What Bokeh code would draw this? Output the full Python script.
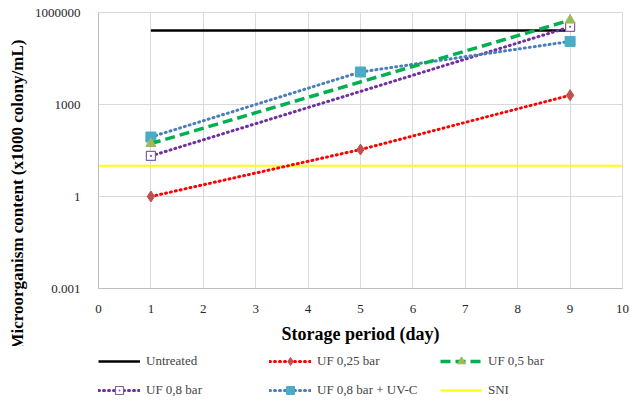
from bokeh.plotting import figure
from bokeh.models import Legend, LegendItem, FixedTicker, Range1d, Title
from bokeh.layouts import column
from bokeh.embed import file_html
from bokeh.resources import INLINE

# ---- data ----
days_untreated = [1, 5, 9]
untreated = [260000, 260000, 260000]
days_uf025 = [1, 5, 9]
uf025 = [1, 34, 2000]
days_uf05 = [1, 9]
uf05 = [53, 560000]
days_uf08 = [1, 9]
uf08 = [21, 340000]
days_uvc = [1, 5, 9]
uvc = [87, 11500, 114000]
days_sni = [0, 10]
sni = [10, 10]
x_ticks = [0, 1, 2, 3, 4, 5, 6, 7, 8, 9, 10]
y_ticks = [0.001, 1, 1000, 1000000]
y_tick_labels = ["0.001", "1", "1000", "1000000"]
labels = ["Untreated", "UF 0,25 bar", "UF 0,5 bar", "UF 0,8 bar", "UF 0,8 bar + UV-C", "SNI"]

FONT = "Liberation Serif"

# ---- styles ----
S_SNI = dict(line_color="#FFFF00", line_width=2)
S_UNT = dict(line_color="black", line_width=2.5)
S_025 = dict(line_color="#FF0000", line_width=3, line_dash="1 4", line_cap="round")
M_025 = dict(marker="diamond", size=11, fill_color="#C0504D", line_color="#C0504D")
S_08 = dict(line_color="#7030A0", line_width=3, line_dash="1 4", line_cap="round")
M_08 = dict(marker="square_dot", size=9, fill_color="white", line_color="#8064A2", line_width=1.2)
S_UVC = dict(line_color="#4A7EBB", line_width=3, line_dash="1 4", line_cap="round")
M_UVC = dict(marker="square", size=10, fill_color="#4BACC6", line_color="#4BACC6")
S_05 = dict(line_color="#00B050", line_width=3.5, line_dash="10 5")
M_05 = dict(marker="triangle", size=10, fill_color="#9BBB59", line_color="#9BBB59")

p = figure(width=630, height=346, output_backend="svg", toolbar_location=None,
           y_axis_type="log", x_range=Range1d(0, 10), y_range=Range1d(0.001, 1000000),
           min_border_left=97, min_border_right=8, min_border_top=12, min_border_bottom=57)

p.outline_line_color = "#D9D9D9"
p.xgrid.grid_line_color = "#D9D9D9"
p.ygrid.grid_line_color = "#D9D9D9"
p.xaxis.ticker = FixedTicker(ticks=x_ticks)
p.yaxis.ticker = FixedTicker(ticks=y_ticks, minor_ticks=[])
p.yaxis.major_label_overrides = {t: l for t, l in zip(y_ticks, y_tick_labels)}
for ax in (p.xaxis, p.yaxis):
    ax.axis_line_color = "#BFBFBF"
    ax.major_tick_line_color = None
    ax.minor_tick_line_color = None
    ax.major_label_text_font = FONT
    ax.major_label_text_font_size = "13px"
    ax.major_label_text_color = "#262626"
    ax.axis_label_text_font = FONT
    ax.axis_label_text_font_style = "bold"
    ax.axis_label_text_font_size = "18px"
    ax.axis_label_text_color = "black"
p.xaxis.axis_label = "Storage period (day)"
p.xaxis.major_label_standoff = 10
p.xaxis.axis_label_standoff = 8
p.yaxis.major_label_standoff = 12

ytitle = Title(text="Microorganism content (x1000 colony/mL)", align="left", offset=-61,
               text_font=FONT, text_font_size="17px", text_font_style="bold",
               text_color="black", standoff=10)
p.add_layout(ytitle, "left")

p.line(days_sni, sni, **S_SNI)
p.line(days_untreated, untreated, **S_UNT)
p.line(days_uf025, uf025, **S_025)
p.scatter(days_uf025, uf025, **M_025)
p.line(days_uf08, uf08, **S_08)
p.scatter(days_uf08, uf08, **M_08)
p.line(days_uvc, uvc, **S_UVC)
p.scatter(days_uvc, uvc, **M_UVC)
p.line(days_uf05, uf05, **S_05)
p.scatter(days_uf05, uf05, **M_05)

# ---- legend panel (series drawn off-range so only the legend shows) ----
lg = figure(width=630, height=54, output_backend="svg", toolbar_location=None,
            x_range=Range1d(-100, -99), y_range=Range1d(-100, -99),
            x_axis_location=None, y_axis_location=None,
            min_border_left=0, min_border_right=0, min_border_top=0, min_border_bottom=0)
lg.grid.visible = False
lg.outline_line_color = None

r_unt = lg.line(days_untreated, untreated, **S_UNT)
r_025 = [lg.line(days_uf025, uf025, **S_025), lg.scatter(days_uf025, uf025, **M_025)]
r_05 = [lg.line(days_uf05, uf05, **S_05), lg.scatter(days_uf05, uf05, **M_05)]
r_08 = [lg.line(days_uf08, uf08, **S_08), lg.scatter(days_uf08, uf08, **M_08)]
r_uvc = [lg.line(days_uvc, uvc, **S_UVC), lg.scatter(days_uvc, uvc, **M_UVC)]
r_sni = lg.line(days_sni, sni, **S_SNI)

items = [
    LegendItem(label=labels[0], renderers=[r_unt]),
    LegendItem(label=labels[1], renderers=r_025),
    LegendItem(label=labels[2], renderers=r_05),
    LegendItem(label=labels[3], renderers=r_08),
    LegendItem(label=labels[4], renderers=r_uvc),
    LegendItem(label=labels[5], renderers=[r_sni]),
]
legend = Legend(items=items, orientation="horizontal", ncols=3, location=(0, 0),
                glyph_width=42, glyph_height=20, label_width=114, spacing=9,
                label_text_font=FONT, label_text_font_size="13px", label_standoff=6,
                border_line_color=None, background_fill_alpha=0,
                padding=0, margin=0)
lg.add_layout(legend, "center")

open("out.html", "w").write(file_html(column(p, lg, spacing=0), INLINE))
